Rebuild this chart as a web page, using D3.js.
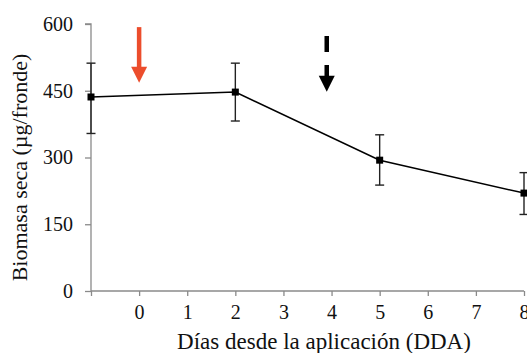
<!DOCTYPE html>
<html>
<head>
<meta charset="utf-8">
<script src="https://cdn.jsdelivr.net/npm/d3@7"></script>
<style>
  body { margin: 0; background: #fff; }
  svg { display: block; }
  text { font-family: 'Liberation Serif', 'Times New Roman', serif; fill: #111; }
</style>
</head>
<body>
<svg id="chart"></svg>
<script>
// data
const days = [-1, 2, 5, 8];
const biomass = [436, 447, 294, 220];
const errHigh = [512, 512, 351, 266];
const errLow = [354, 382, 238, 172];

const xTicks = [-1, 0, 1, 2, 3, 4, 5, 6, 7, 8];
const yTicks = [0, 150, 300, 450, 600];

// application arrows (day, top value, tip value)
const arrowDays = [0, 3.9];
const arrowTop = [593, 573];
const arrowTip = [468, 448];

const dimensions = { width: 527, height: 353 };
const serif = "'Liberation Serif', 'Times New Roman', serif";

const svg = d3.select('#chart')
  .attr('width', dimensions.width)
  .attr('height', dimensions.height)

// scales
const x = d3.scaleLinear().domain([-1, 8]).range([91, 524])
const y = d3.scaleLinear().domain([0, 600]).range([291, 24])

// y axis
const yAxis = svg.append('g')
  .attr('transform', `translate(${x(-1)},0)`)
  .call(d3.axisLeft(y).tickValues(yTicks).tickSize(6).tickPadding(12))
yAxis.select('.domain').attr('stroke', '#8a8a8a').attr('stroke-width', 1.3).attr('d', `M-6,${y(600)}H0V${y(0)}`)
yAxis.selectAll('.tick line').attr('stroke', '#8a8a8a').attr('stroke-width', 1.3)
yAxis.selectAll('.tick text')
  .style('font-family', serif)
  .style('font-size', '20px')
  .attr('fill', '#111')

// x axis
const xAxis = svg.append('g')
  .attr('transform', `translate(0,${y(0)})`)
  .call(d3.axisBottom(x).tickValues(xTicks).tickSize(5).tickPadding(9)
    .tickFormat(d => d < 0 ? '' : d))
xAxis.select('.domain').attr('stroke', '#8a8a8a').attr('stroke-width', 1.3).attr('d', `M${x(-1)},0H${x(8)}`)
xAxis.selectAll('.tick line').attr('stroke', '#8a8a8a').attr('stroke-width', 1.3)
xAxis.selectAll('.tick text')
  .style('font-family', serif)
  .style('font-size', '20px')
  .attr('fill', '#111')

// axis titles
svg.append('text')
  .attr('x', 324)
  .attr('y', 349)
  .attr('text-anchor', 'middle')
  .style('font-size', '23px')
  .text('Días desde la aplicación (DDA)')

svg.append('text')
  .attr('transform', `translate(27,${(y(0) + y(600)) / 2 + 10}) rotate(-90)`)
  .attr('text-anchor', 'middle')
  .style('font-size', '22px')
  .text('Biomasa seca (µg/fronde)')

// arrows
const arrowColors = ['#ec4d2c', '#000']
arrowDays.forEach((d, i) => {
  const ax = x(d)
  const tip = y(arrowTip[i])
  const headLen = 16
  svg.append('line')
    .attr('x1', ax).attr('x2', ax)
    .attr('y1', y(arrowTop[i]))
    .attr('y2', tip - headLen + 1)
    .attr('stroke', arrowColors[i])
    .attr('stroke-width', 4.5)
    .attr('stroke-dasharray', i === 1 ? '16,13' : null)
  svg.append('path')
    .attr('d', `M${ax - 8},${tip - headLen}L${ax + 8},${tip - headLen}L${ax},${tip}Z`)
    .attr('fill', arrowColors[i])
})

const pts = days.map((d, i) => ({ day: d, v: biomass[i], hi: errHigh[i], lo: errLow[i] }))

// error bars
const eb = svg.append('g').attr('stroke', '#222').attr('stroke-width', 1.4)
pts.forEach(p => {
  eb.append('line').attr('x1', x(p.day)).attr('x2', x(p.day)).attr('y1', y(p.hi)).attr('y2', y(p.lo))
  eb.append('line').attr('x1', x(p.day) - 4.5).attr('x2', x(p.day) + 4.5).attr('y1', y(p.hi)).attr('y2', y(p.hi))
  eb.append('line').attr('x1', x(p.day) - 4.5).attr('x2', x(p.day) + 4.5).attr('y1', y(p.lo)).attr('y2', y(p.lo))
})

// line
const line = d3.line().x(d => x(d.day)).y(d => y(d.v))
svg.append('path')
  .datum(pts)
  .attr('d', line)
  .attr('fill', 'none')
  .attr('stroke', '#000')
  .attr('stroke-width', 1.5)

// markers
svg.selectAll('rect.pt')
  .data(pts)
  .join('rect')
  .attr('class', 'pt')
  .attr('x', d => x(d.day) - 3.5)
  .attr('y', d => y(d.v) - 3.5)
  .attr('width', 7)
  .attr('height', 7)
  .attr('fill', '#000')
</script>
</body>
</html>
